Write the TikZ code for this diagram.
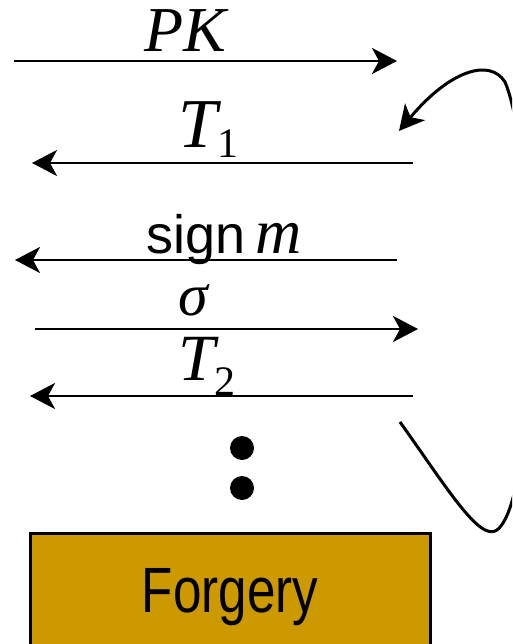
\documentclass[tikz,border=0pt]{standalone}
\usepackage{fontspec}
\setmainfont{Liberation Serif}
\setsansfont{Liberation Sans}
\usetikzlibrary{arrows.meta}
\definecolor{forgeryfill}{HTML}{CC9900}
\tikzset{
  msg/.style={line width=2.5pt,-{Stealth[length=25pt,width=26pt,inset=7pt]}},
  lbl/.style={inner sep=0pt,anchor=base},
  dot/.style={circle,fill=black,inner sep=0pt,minimum size=24pt},
  fbox/.style={draw=black,line width=3pt,fill=forgeryfill}
}
\newcommand{\fsz}[1]{\fontsize{#1}{#1}\selectfont}
\begin{document}
\begin{tikzpicture}[x=1pt,y=-1pt]
\useasboundingbox (0,0) rectangle (512,644);
\begin{scope}
\clip (0,0) rectangle (512,644);
% messages
\coordinate (a1s) at (14,61);   \coordinate (a1e) at (397,61);
\coordinate (a2s) at (413,163); \coordinate (a2e) at (32,163);
\coordinate (a3s) at (397,260); \coordinate (a3e) at (15,260);
\coordinate (a4s) at (35,329);  \coordinate (a4e) at (418,329);
\coordinate (a5s) at (413,396); \coordinate (a5e) at (30,396);
\draw[msg] (a1s) -- (a1e);
\draw[msg] (a2s) -- (a2e);
\draw[msg] (a3s) -- (a3e);
\draw[msg] (a4s) -- (a4e);
\draw[msg] (a5s) -- (a5e);
% labels
\node[lbl] (lpk) at (185,52) {\fsz{64}\itshape PK};
\node[lbl,anchor=base west] (lt1) at (178,148) {\fsz{70}\itshape T\raisebox{-10pt}{\fsz{42}\upshape 1}};
\node[lbl,anchor=base west] (lsign) at (146,253) {\fsz{54}\sffamily sign\hspace{10pt}\fsz{64}\rmfamily\itshape m};
\node[lbl] (lsig) at (193,315) {\fsz{60}\itshape σ};
\node[lbl,anchor=base west] (lt2) at (178,380) {\fsz{66}\itshape T\raisebox{-15pt}{\fsz{42}\upshape 2}};
% loop
\coordinate (cs) at (400,422);
\coordinate (ce) at (399,131);
\draw[line width=3pt,-{Stealth[length=25pt,width=26pt,inset=7pt]}]
  (cs) .. controls (445,485) and (480,543) .. (497,530)
       .. controls (540,497) and (538,160) .. (505,82)
       .. controls (490,58) and (450,70) .. (ce);
% dots
\node[dot] (d1) at (242,448) {};
\node[dot] (d2) at (242,488) {};
% forgery box
\draw[fbox] (30,533) rectangle (430,660);
\node[lbl] (forg) at (230,612) {\scalebox{0.8}[1]{\fsz{64}\sffamily Forgery}};
\end{scope}
\end{tikzpicture}
\end{document}
